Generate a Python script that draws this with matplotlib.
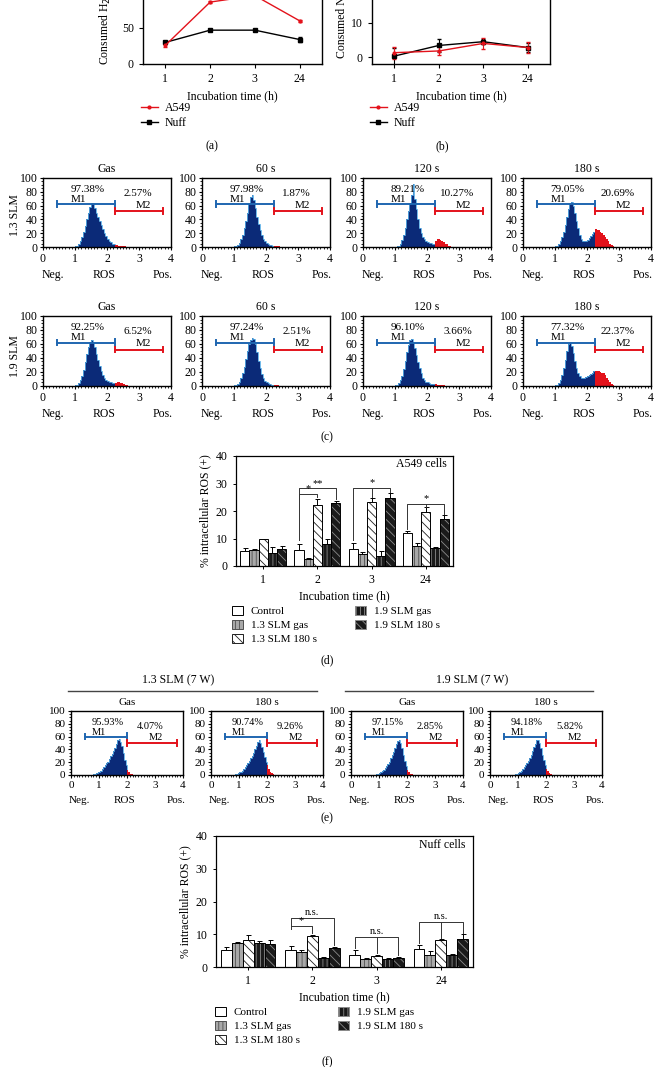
"""
Multi-panel ROS figure: consumption curves, flow histograms and ROS bar charts.
"""
import numpy as np
from matplotlib import pyplot as plt
import matplotlib.patches as patches
from matplotlib.lines import Line2D
from matplotlib.ticker import AutoMinorLocator

plt.rcParams['font.family'] = ['Liberation Serif', 'DejaVu Serif']
plt.rcParams['hatch.linewidth'] = 0.6

W, H = 655, 1067

# ---------------- data ----------------
times = ['1', '2', '3', '24']

# (a) consumed H2O2
a549_h2o2 = [26, 86, 95, 60]
a549_h2o2_err = [2, 1, 1, 1]
nuff_h2o2 = [30, 47, 47, 34]
nuff_h2o2_err = [1, 1, 1, 3]

# (b) consumed NO
a549_no = [1.3, 1.8, 4.0, 2.8]
a549_no_err = [1.8, 1.2, 1.7, 1.5]
nuff_no = [0.3, 3.4, 4.5, 2.8]
nuff_no_err = [2.5, 1.8, 0.8, 1.3]

# flow histograms, bins of 0.05 from 0.80 to 2.90
hist_edges = np.round(np.arange(0.80, 2.9001, 0.05), 2)
hist_c_titles = ['Gas', '60 s', '120 s', '180 s']
hist_13 = [
    [0, 0, 0.5, 0.5, 1, 2, 4, 8, 14, 22, 31, 41, 50, 58, 64, 63, 57, 50, 44, 38, 32,
     26, 21, 16, 12, 9, 7, 5, 4, 3, 2.5, 2, 1.5, 1.2, 1, 0.8, 0.5, 0.4, 0.3, 0.2, 0, 0],
    [0, 0, 0, 0.5, 1, 1.5, 3, 6, 11, 18, 27, 38, 50, 62, 72, 76, 68, 56, 44, 33, 24,
     17, 12, 8, 6, 4.5, 3.5, 2.5, 2, 1.5, 1.2, 1, 0.8, 0.6, 0.4, 0.3, 0.2, 0, 0, 0, 0, 0],
    [0, 0, 0, 0, 0.5, 1, 2, 5, 10, 18, 28, 40, 52, 62, 75, 92, 70, 55, 40, 28, 20,
     15, 11, 9, 7, 6, 6, 5, 5, 8, 11, 12, 10, 9, 7, 5, 4, 2, 1, 0.5, 0, 0],
    [0, 0, 0, 0.5, 1, 2, 4, 8, 14, 22, 32, 44, 55, 62, 65, 60, 50, 38, 27, 18, 12,
     9, 8, 8, 10, 13, 16, 19, 22, 26, 25, 24, 22, 20, 17, 14, 11, 8, 5, 3, 1, 0],
]
pct_13 = [('97.38%', '2.57%'), ('97.98%', '1.87%'), ('89.21%', '10.27%'), ('79.05%', '20.69%')]
hist_19 = [
    [0, 0, 0.5, 0.5, 1, 2, 4, 8, 14, 23, 34, 46, 56, 63, 66, 62, 55, 46, 37, 29, 22,
     16, 12, 9, 7, 6, 5, 4.5, 4, 4, 5, 5, 4, 4, 3, 2, 1, 0.5, 0, 0, 0, 0],
    [0, 0, 0, 0.5, 1, 1.5, 3, 6, 11, 18, 27, 38, 50, 60, 66, 68, 67, 60, 48, 36, 25,
     17, 11, 7, 5, 4, 3, 2, 1.5, 1.2, 1, 0.8, 0.5, 0.3, 0, 0, 0, 0, 0, 0, 0, 0],
    [0, 0, 0, 0.5, 1, 2, 4, 8, 14, 24, 36, 48, 58, 65, 67, 62, 54, 44, 34, 25, 18,
     12, 8, 6, 5, 4, 3.5, 3, 2.5, 2.5, 2, 2, 1.5, 1, 0.8, 0.5, 0.3, 0, 0, 0, 0, 0],
    [0, 0, 0, 0.5, 1, 2, 4, 8, 15, 25, 37, 50, 60, 62, 57, 47, 36, 26, 19, 14, 12,
     11, 12, 13, 14, 15, 17, 19, 21, 22, 21, 22, 20, 19, 18, 15, 12, 9, 6, 3, 1, 0],
]
pct_19 = [('92.25%', '6.52%'), ('97.24%', '2.51%'), ('96.10%', '3.66%'), ('77.32%', '22.37%')]

hist_e_titles = ['Gas', '180 s', 'Gas', '180 s']
hist_e = [
    [1, 2, 3, 4, 5, 7, 9, 12, 15, 18, 21, 25, 29, 33, 37, 42, 48, 54, 56, 52, 45,
     35, 24, 15, 8, 4, 2, 1, 0.5, 0, 0, 0, 0, 0, 0, 0, 0, 0, 0, 0, 0, 0],
    [0.5, 1, 2, 3, 4, 5, 7, 9, 12, 15, 18, 22, 26, 30, 35, 40, 46, 52, 54, 50, 44,
     36, 28, 21, 15, 9, 5, 2.5, 1, 0.5, 0, 0, 0, 0, 0, 0, 0, 0, 0, 0, 0, 0],
    [0, 0.5, 1, 2, 3, 4, 6, 8, 11, 14, 17, 21, 26, 31, 36, 42, 48, 53, 55, 50, 42,
     32, 22, 14, 8, 4, 2, 1, 0.5, 0, 0, 0, 0, 0, 0, 0, 0, 0, 0, 0, 0, 0],
    [0, 0.5, 1, 2, 3, 5, 7, 9, 12, 15, 18, 22, 27, 32, 37, 43, 49, 54, 55, 50, 42,
     32, 23, 15, 10, 6, 3, 1.5, 0.5, 0, 0, 0, 0, 0, 0, 0, 0, 0, 0, 0, 0, 0],
]
pct_e = [('95.93%', '4.07%'), ('90.74%', '9.26%'), ('97.15%', '2.85%'), ('94.18%', '5.82%')]

# (d) A549 % intracellular ROS(+), rows = groups, cols = time
bar_labels = ['Control', '1.3 SLM gas', '1.3 SLM 180 s', '1.9 SLM gas', '1.9 SLM 180 s']
a549_ros = [
    [5.3, 6.0, 6.3, 12.0],
    [6.0, 2.7, 4.3, 7.3],
    [9.7, 22.3, 23.3, 19.7],
    [4.8, 7.9, 3.8, 6.7],
    [6.2, 23.0, 24.8, 17.2],
]
a549_ros_err = [
    [1.2, 2.0, 2.0, 0.9],
    [0.3, 0.3, 0.8, 1.2],
    [0.3, 2.0, 1.3, 1.7],
    [2.2, 2.1, 1.8, 0.3],
    [1.0, 0.7, 1.8, 1.2],
]
# (f) Nuff
nuff_ros = [
    [5.3, 5.1, 3.8, 5.6],
    [7.4, 4.5, 2.5, 3.6],
    [8.3, 9.6, 3.4, 8.2],
    [7.3, 2.9, 2.3, 3.8],
    [7.1, 5.9, 2.9, 8.5],
]
nuff_ros_err = [
    [0.8, 1.2, 1.5, 1.2],
    [0.3, 0.8, 0.2, 1.2],
    [1.5, 0.3, 0.3, 0.2],
    [0.6, 0.2, 0.3, 0.1],
    [1.0, 0.2, 0.3, 1.6],
]

bar_styles = [
    dict(face='white', hatch=None, hcol='black'),
    dict(face='#a8a8a8', hatch='||||', hcol='#505050'),
    dict(face='white', hatch='\\\\\\\\', hcol='#202020'),
    dict(face='#1a1a1a', hatch='||||', hcol='#8a8a8a'),
    dict(face='#1a1a1a', hatch='\\\\\\\\', hcol='#8a8a8a'),
]

NAVY = '#0b2a78'
EDGE = '#58aee6'
RED = '#e3121b'
M1C = '#1f66b0'


def add_ax(fig, l, t, r, b):
    return fig.add_axes([l / W, 1 - b / H, (r - l) / W, (b - t) / H])


def fig_text(fig, x, y, s, **kw):
    fig.text(x / W, 1 - y / H, s, **kw)


def line_panel(fig, l, r, bottom, ylim, yticks, ylabel, a, ae, n, ne, px_per_unit, lx):
    top = bottom - (ylim[1] - ylim[0]) * px_per_unit
    ax = add_ax(fig, l, top, r, bottom)
    x = np.arange(len(times))
    ax.errorbar(x, n, yerr=ne, color='black', marker='s', ms=2.5, lw=1.0,
                capsize=1.5, elinewidth=0.8)
    ax.errorbar(x, a, yerr=ae, color=RED, marker='o', ms=2, lw=1.0,
                capsize=1.5, elinewidth=0.8)
    ax.set_xlim(-0.5, 3.5)
    ax.set_ylim(*ylim)
    ax.set_yticks(yticks)
    ax.set_xticks(x)
    ax.set_xticklabels(times)
    ax.tick_params(labelsize=8.5, width=0.8, length=3)
    ax.spines['top'].set_visible(False)
    for s in ax.spines.values():
        s.set_linewidth(1.0)
    ax.set_xlabel('Incubation time (h)', fontsize=8.5, labelpad=4)
    ax.set_ylabel(ylabel, fontsize=8.5, labelpad=2)
    handles = [Line2D([], [], color=RED, marker='o', ms=2, lw=1.0, label='A549'),
               Line2D([], [], color='black', marker='s', ms=2.5, lw=1.0, label='Nuff')]
    fig.legend(handles=handles, loc='upper left', bbox_to_anchor=(lx / W, 1 - 102 / H),
               frameon=False, fontsize=8.5, handlelength=1.4, handletextpad=0.6,
               labelspacing=0.25, borderaxespad=0, borderpad=0)
    return ax


def hist_panel(fig, l, t, r, b, vals, pct, title, geom, fs=8.5):
    m1y, m2y, lo, cut, hi = geom
    ax = add_ax(fig, l, t, r, b)
    vals = np.asarray(vals, dtype=float)
    idx = int(np.searchsorted(hist_edges, cut - 1e-9))
    ax.stairs(vals[:idx], hist_edges[:idx + 1], fill=True, color=NAVY, lw=0)
    ax.stairs(vals[:idx], hist_edges[:idx + 1], color=EDGE, lw=0.6)
    ax.stairs(vals[idx:], hist_edges[idx:], fill=True, color=RED, lw=0)
    ax.set_xlim(0, 4)
    ax.set_ylim(0, 100)
    ax.set_xticks([0, 1, 2, 3, 4])
    ax.set_yticks([0, 20, 40, 60, 80, 100])
    ax.xaxis.set_minor_locator(AutoMinorLocator(10))
    ax.yaxis.set_minor_locator(AutoMinorLocator(4))
    ax.tick_params(labelsize=fs, width=0.8, length=2.5, pad=1.5)
    ax.tick_params(which='minor', length=1.5, width=0.6)
    for s in ax.spines.values():
        s.set_linewidth(1.0)
    ax.plot([lo, cut], [m1y, m1y], color=M1C, lw=1.4)
    ax.plot([lo, lo], [m1y - 4, m1y + 4], color=M1C, lw=1.4)
    ax.plot([cut, cut], [m1y - 5, m1y + 5], color=M1C, lw=1.4)
    ax.plot([cut, hi], [m2y, m2y], color=RED, lw=1.4)
    ax.plot([cut, cut], [m2y - 4, m2y + 4], color=RED, lw=1.4)
    ax.plot([hi, hi], [m2y - 4, m2y + 4], color=RED, lw=1.4)
    ax.text((lo + cut) / 2 + 0.05, m1y + 22, pct[0], fontsize=fs - 0.5, ha='center', va='center')
    ax.text((lo + cut) / 2 - 0.25, m1y + 7, 'M1', fontsize=fs - 0.5, ha='center', va='center')
    ax.text((cut + hi) / 2 - 0.05, m2y + 26, pct[1], fontsize=fs - 0.5, ha='center', va='center')
    ax.text((cut + hi) / 2 + 0.15, m2y + 8, 'M2', fontsize=fs - 0.5, ha='center', va='center')
    ax.set_title(title, fontsize=fs, pad=4)
    for xs, s in [(0.3, 'Neg.'), (1.9, 'ROS'), (3.75, 'Pos.')]:
        ax.text(xs, -0.4, s, transform=ax.get_xaxis_transform(), fontsize=fs,
                ha='center', va='center')
    return ax


def bracket(ax, x1, x2, y, y1, y2, label, xm=None, ym=None):
    ax.plot([x1, x1, x2, x2], [y1, y, y, y2], color='#333333', lw=0.7)
    if xm is not None:
        ax.plot([xm, xm], [y, ym], color='#333333', lw=0.7)
    ax.text((x1 + x2) / 2 if xm is None else xm, y + 0.3, label, ha='center', va='bottom',
            fontsize=7.5)


def bar_panel(fig, l, t, r, b, vals, errs, cell_label, legend_xy, ylab_pad):
    ax = add_ax(fig, l, t, r, b)
    x = np.arange(len(times))
    w = 0.17
    for i, (v, e, st) in enumerate(zip(vals, errs, bar_styles)):
        pos = x + (i - 2) * w
        ax.errorbar(pos, v, yerr=[np.zeros(len(e)), e], fmt='none', ecolor='black',
                    elinewidth=0.7, capsize=1.8, capthick=0.7, zorder=1)
        ax.bar(pos, v, width=w, color=st['face'], edgecolor=st['hcol'],
               hatch=st['hatch'], lw=0, zorder=2)
        ax.bar(pos, v, width=w, fill=False, edgecolor='black', lw=0.7, zorder=3)
    ax.set_xlim(-0.5, 3.5)
    ax.set_ylim(0, 40)
    ax.set_yticks([0, 10, 20, 30, 40])
    ax.set_xticks(x)
    ax.set_xticklabels(times)
    ax.tick_params(labelsize=8.5, width=0.7, length=2.5)
    for s in ax.spines.values():
        s.set_linewidth(0.9)
    ax.set_xlabel('Incubation time (h)', fontsize=8.5, labelpad=3)
    ax.set_ylabel('% intracellular ROS (+)', fontsize=8.5, labelpad=ylab_pad)
    ax.text(0.97, 0.93, cell_label, transform=ax.transAxes, ha='right', va='center',
            fontsize=8.5)
    handles = [patches.Patch(facecolor=st['face'], edgecolor=st['hcol'] if st['hatch'] else 'black',
                             hatch=st['hatch'], lw=0.7, label=lab)
               for st, lab in zip(bar_styles, bar_labels)]
    fig.legend(handles=handles, ncol=2, loc='upper left',
               bbox_to_anchor=(legend_xy[0] / W, 1 - legend_xy[1] / H), frameon=False,
               fontsize=8, handlelength=1.0, handleheight=0.8, handletextpad=0.7,
               labelspacing=0.35, columnspacing=3.4, borderaxespad=0, borderpad=0)
    return ax, x, w


fig = plt.figure(figsize=(W / 100, H / 100), dpi=100)

# (a) and (b)
line_panel(fig, 143, 322, 64, (0, 150), [0, 50, 100, 150], 'Consumed H$_2$O$_2$ (μM)',
           a549_h2o2, a549_h2o2_err, nuff_h2o2, nuff_h2o2_err, 36 / 50, 141)
line_panel(fig, 372, 550, 64, (-2, 30), [0, 10, 20, 30], 'Consumed NO (μM)',
           a549_no, a549_no_err, nuff_no, nuff_no_err, 34.3 / 10, 370)
fig_text(fig, 212, 146, '(a)', fontsize=8.5, ha='center', va='center')
fig_text(fig, 442, 146, '(b)', fontsize=8.5, ha='center', va='center')

# (c) histograms
lefts = [43, 202, 363, 523]
geom_c = (62, 52, 0.45, 2.25, 3.75)
for i, l in enumerate(lefts):
    hist_panel(fig, l, 178, l + 128, 247, hist_13[i], pct_13[i], hist_c_titles[i], geom_c)
    hist_panel(fig, l, 316, l + 128, 386, hist_19[i], pct_19[i], hist_c_titles[i], geom_c)
fig_text(fig, 15, 215, '1.3 SLM', rotation=90, fontsize=8.5, ha='center', va='center')
fig_text(fig, 15, 356, '1.9 SLM', rotation=90, fontsize=8.5, ha='center', va='center')
fig_text(fig, 327, 437, '(c)', fontsize=8.5, ha='center', va='center')

# (d) A549 bars
ax_d, xd, wd = bar_panel(fig, 236, 456, 453, 566, a549_ros, a549_ros_err, 'A549 cells',
                         (232, 606), 3)
o = lambda g, i: xd[g] + (i - 2) * wd
bracket(ax_d, o(1, 0), o(1, 2), 26.2, 24.5, 25.0, '*')
bracket(ax_d, o(1, 0), o(1, 4), 28.2, 9.5, 24.2, '**')
bracket(ax_d, o(2, 0), o(2, 4), 28.5, 9.5, 27.0, '*', xm=o(2, 2), ym=25.0)
bracket(ax_d, o(3, 0), o(3, 4), 22.4, 13.5, 19.0, '*', xm=o(3, 2), ym=21.6)
fig_text(fig, 327, 660, '(d)', fontsize=8.5, ha='center', va='center')

# (e) histograms
fig_text(fig, 178, 680, '1.3 SLM (7 W)', fontsize=8.5, ha='center', va='center')
fig_text(fig, 472, 680, '1.9 SLM (7 W)', fontsize=8.5, ha='center', va='center')
fig.add_artist(Line2D([68 / W, 317 / W], [1 - 691 / H] * 2, color='#444444', lw=1.0))
fig.add_artist(Line2D([345 / W, 593 / W], [1 - 691 / H] * 2, color='#444444', lw=1.0))
lefts_e = [71, 211, 351, 490]
geom_e = (60, 50, 0.5, 2.0, 3.77)
for i, l in enumerate(lefts_e):
    hist_panel(fig, l, 711, l + 112, 775, hist_e[i], pct_e[i], hist_e_titles[i], geom_e, fs=8)
fig_text(fig, 327, 818, '(e)', fontsize=8.5, ha='center', va='center')

# (f) Nuff bars
ax_f, xf, wf = bar_panel(fig, 216, 836, 473, 967, nuff_ros, nuff_ros_err, 'Nuff cells',
                         (215, 1007), 3)
o = lambda g, i: xf[g] + (i - 2) * wf
bracket(ax_f, o(1, 0), o(1, 2), 12.4, 11.5, 10.5, '*')
bracket(ax_f, o(1, 0), o(1, 4), 15.1, 12.4, 6.6, 'n.s.')
bracket(ax_f, o(2, 0), o(2, 4), 9.2, 5.8, 3.7, 'n.s.', xm=o(2, 2), ym=4.2)
bracket(ax_f, o(3, 0), o(3, 4), 13.7, 7.3, 10.5, 'n.s.', xm=o(3, 2), ym=8.9)
fig_text(fig, 327, 1062, '(f)', fontsize=8.5, ha='center', va='center')

plt.savefig('out.png', dpi=100)
